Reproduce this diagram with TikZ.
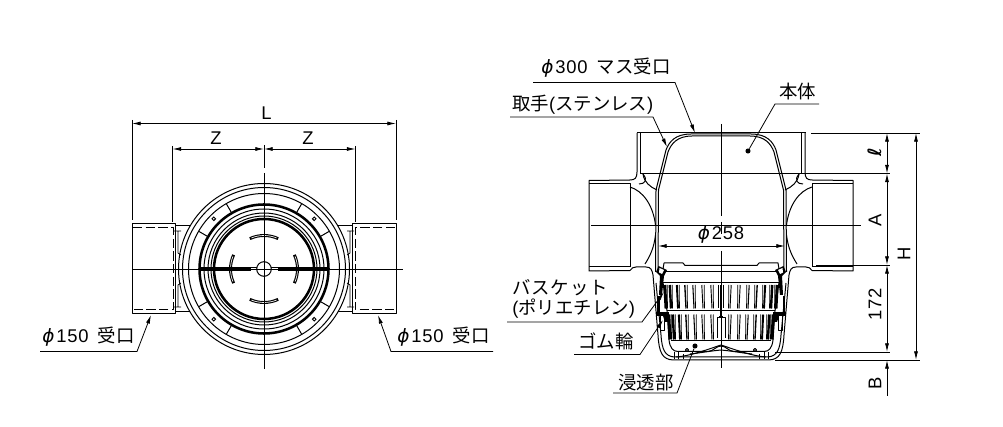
\documentclass[tikz,border=0pt]{standalone}
\usepackage{fontspec}
\setmainfont{Liberation Sans}
\newfontfamily\jp{Noto Sans CJK JP}
\newfontfamily\jpw[LetterSpace=5]{Noto Sans CJK JP}
\newfontfamily\dig[LetterSpace=4]{Liberation Sans}
\newfontfamily\symf{DejaVu Sans}
\usetikzlibrary{arrows.meta,calc}
\newcommand{\phisym}{{\symf\itshape ϕ}\hspace{1.5pt}}
\tikzset{
  base/.style={line width=0.75pt,line cap=butt,line join=round},
  thin line/.style={line width=0.6pt},
  centre/.style={line width=0.6pt},
  dim/.style={line width=0.6pt,{Latex[length=6.5pt,width=3pt]}-{Latex[length=6.5pt,width=3pt]}},
  ext/.style={line width=0.6pt},
  lead/.style={line width=0.6pt},
  leadarrow/.style={line width=0.6pt,-{Latex[length=6.5pt,width=3pt]}},
  lbl/.style={inner sep=0pt,anchor=west,font=\fontsize{13.8}{15}\selectfont},
  dimtxt/.style={inner sep=0pt,font=\fontsize{13.8}{15}\selectfont},
  dot/.style={circle,fill=black,inner sep=0pt,minimum size=3.8pt},
}
\newcommand{\pipeL}{%
  \draw[base] (132,224) rectangle (175.5,314);
  \draw[base,dashed,dash pattern=on 7pt off 2.5pt] (133,228) -- (173,228) -- (173,310) -- (133,310);
  \draw[base] (175.5,226) -- (190,226);
  \draw[base] (175.5,312) -- (190,312);
  \draw[thin line] (174,231) -- (181,231) (178,231) -- (178,253) -- (181,255);
  \draw[thin line] (174,307) -- (181,307) (178,307) -- (178,285) -- (181,283);
}
\newcommand{\sideL}{%
  \draw[base] (637,133) -- (637,172) .. controls (637,178) and (635,180) .. (630,180) -- (589,180.5) -- (589,271) -- (630,270.5)
    .. controls (632,268) and (633,267) .. (636,267) -- (646,267) .. controls (651,267) and (652,270) .. (653,275)
    -- (658,335) .. controls (659,352) and (662,360) .. (674,360) -- (721,360);
  \draw[base] (640.5,133) -- (640.5,173);
  \draw[base] (589,184) -- (630,184) -- (630,267) (589,266.5) -- (630,266.5);
  \draw[base] (630,187) .. controls (643,191) and (653,205) .. (655.5,225);
  \draw[base] (655.5,235) .. controls (654,248) and (650,256) .. (645,264);
  \draw[base] (643,174) .. controls (644,182) and (650,187) .. (657,190);
  \draw[base] (639,184) .. controls (645,184) and (648,180) .. (643,174);
  \draw[base] (721,134) -- (691,134) .. controls (675,134) and (669,142) .. (666,150) -- (656,190) -- (655.5,272);
  \draw[base] (721,136) -- (692,136) .. controls (677,136) and (671,144) .. (668,152) -- (658.5,190) -- (658,272);
  \draw[base] (656,283) -- (661,335) .. controls (662,350) and (665,356) .. (674,357) -- (721,357);
  % basket plates
  \draw[base] (664,272) -- (721,272);
  \draw[base] (663,269) -- (664,263) -- (683,263) -- (685,265.5) -- (721,265.5);
  % gasket
  \fill (658.5,266) -- (667,270) -- (664,276) -- (660,276) -- (656,272) -- cycle;
  \fill[white] (659.5,268) -- (664,270) -- (662,274) -- (659,272.5) -- cycle;
  % basket body
  \draw[base] (663,282.5) -- (721,282.5);
  \draw[base] (667,311) -- (721,311);
  \draw[base] (671,340.5) -- (721,340.5);
  \draw[base] (663,282.5) -- (667,311) -- (669,340) .. controls (670,348) and (673,351.5) .. (678,351.5) -- (708,351.5) .. controls (714,351) and (716,346) .. (721,346);
  % rubber ring and rim
  \fill (656,312) rectangle (669,316);
  \fill (663,316) -- (668,316) -- (668,322) -- (665,322) -- cycle;
  \fill (657,296) rectangle (659.5,312);
  \draw[base] (660,316) rectangle (664,331);
  \fill (660,276) -- (664,276) -- (662,295) -- (659,295) -- cycle;
  % upper row of slots
  \foreach \o/\w in {9/.7,18/.7,27/.8,35/1,43/1.4,50/1.8,55/2.2}{
    \draw[line width=.6pt] ({721-\o+1.2},285) -- ({721-\o+1.4},308.5);
    \draw[line width=\w pt] ({721-\o-1.2},285) -- ({721-\o},308.5);
  }
  % lower row of slots
  \foreach \o/\w in {9/.7,18/.7,26/.8,34/1,41/1.4,47/1.8,51/2.2}{
    \draw[line width=.6pt] ({721-\o+1.2},314.5) -- ({721-\o+1.4},339.5);
    \draw[line width=\w pt] ({721-\o-1.2},314.5) -- ({721-\o},339.5);
  }
  % seepage floor
  \draw[base] (676,357) .. controls (690,356) and (706,350) .. (721,345);
  \draw[base] (690,354) .. controls (700,353) and (710,351) .. (721,350);
  \draw[base] (687,350) circle (1.6);
  \draw[thin line] (674,352) -- (674,359) (678,352) -- (678,359) (683,354) -- (683,359);
}
\begin{document}
\begin{tikzpicture}[x=0.75pt,y=-0.75pt]
\useasboundingbox (0,0) rectangle (1003,427);
% ---------- plan view
\pipeL
\begin{scope}[shift={(528,0)},xscale=-1]\pipeL\end{scope}
\foreach \r in {85.5,81.5,75.5,60,56,53}{\draw[base] (264,269) circle (\r);}
\draw[line width=1.9pt] (264,269) circle (64.5);
\draw[line width=1.9pt] (264,269) circle (50);
\foreach \a in {30,60,120,150,210,240,300,330}{
  \draw[base] ($(264,269)+(\a:65)$) -- ($(264,269)+(\a:75.5)$);
}
\foreach \a in {45,135,225,315}{\draw[line width=.7pt] ($(264,269)+(\a:71)$) circle (1.8);}
\foreach \a in {0,90,180,270}{
  \draw[line width=2.2pt] ($(264,269)+(\a-25:33.5)$) arc[start angle=\a-25,end angle=\a+25,radius=33.5];
  \draw[white,line width=.5pt] ($(264,269)+(\a-22:33.5)$) arc[start angle=\a-22,end angle=\a+22,radius=33.5];
}
\draw[line width=2.6pt] (199,269) -- (251,269) (278,269) -- (329,269);
\draw[base] (251,268) -- (257,268) (251,270) -- (257,270) (271,268) -- (278,268) (271,270) -- (278,270);
\draw[base] (264,269) circle (7.3);
\draw[centre] (132,269) -- (403,269);
\draw[centre] (264,145) -- (264,168) (264,173) -- (264,369);
% plan dimensions
\coordinate (L1) at (132,120); \coordinate (L1b) at (132,220);
\coordinate (L2) at (396,120); \coordinate (L2b) at (396,220);
\coordinate (Z1) at (172.5,146); \coordinate (Z1b) at (172.5,222);
\coordinate (Z2) at (355.5,146); \coordinate (Z2b) at (355.5,222);
\draw[ext] (L1) -- (L1b) (L2) -- (L2b) (Z1) -- (Z1b) (Z2) -- (Z2b);
\draw[dim] (132,123.5) -- (396,123.5);
\draw[dim] (172.5,149) -- (264,149);
\draw[dim] (264,149) -- (355.5,149);
\node[dimtxt] (tL) at (266.5,113) {L};
\node[dimtxt] (tZ1) at (216,138.5) {Z};
\node[dimtxt] (tZ2) at (308,138.5) {Z};
% plan labels
\node[lbl] (p1) at (42,337) {\phisym{\dig 150}\hspace{7pt}{\jp 受口}};
\node[lbl] (p2) at (397,337) {\phisym{\dig 150}\hspace{7pt}{\jp 受口}};
\coordinate (p1a) at (40,351.5); \coordinate (p1b) at (137,351.5); \coordinate (p1c) at (151,315);
\coordinate (p2a) at (493,351.5); \coordinate (p2b) at (391,351.5); \coordinate (p2c) at (378,315);
\draw[leadarrow] (p1a) -- (p1b) -- (p1c);
\draw[leadarrow] (p2a) -- (p2b) -- (p2c);
% ---------- section view
\sideL
\begin{scope}[shift={(1442,0)},xscale=-1]\sideL\end{scope}
\draw[base] (637,133) -- (806,133);
% central slot
\draw[base] (717,338) -- (717,318) -- (725,318) -- (725,338);
\fill (719,316) -- (723,316) -- (723,318) -- (719,318) -- cycle;
\fill (720.3,285) rectangle (721.7,316);
\draw[line width=.7pt] (718.5,285) -- (718.5,308) (723.5,285) -- (723.5,308);
% centre lines
\draw[centre] (721,124) -- (721,216) (721,222) -- (721,234) (721,251) -- (721,368);
\draw[centre] (591,225.5) -- (861,225.5);
% section dimensions
\coordinate (e1) at (811,133); \coordinate (e1b) at (920,133);
\coordinate (e2) at (640,173.5); \coordinate (e2b) at (890,173.5);
\coordinate (e3) at (816,265); \coordinate (e3b) at (890,265);
\coordinate (e4) at (775,352); \coordinate (e4b) at (890,352);
\coordinate (e5) at (775,360); \coordinate (e5b) at (920,360);
\draw[ext] (e1) -- (e1b) (e2) -- (e2b) (e3) -- (e3b) (e4) -- (e4b) (e5) -- (e5b);
\draw[dim] (887,133) -- (887,173.5);
\draw[dim] (887,173.5) -- (887,265);
\draw[dim] (887,265) -- (887,352);
\draw[dim] (916,133) -- (916,360);
\coordinate (Bt) at (887,396);
\draw[leadarrow] (Bt) -- (887,360);
\draw[dim] (658,246) -- (785,246);
\node[dimtxt] (t258) at (721,234) {\phisym{\dig 258}};
\node[dimtxt,rotate=90] (tl) at (875,152) {{\symf\bfseries\itshape ℓ}};
\node[dimtxt,rotate=90] (tA) at (875,220) {A};
\node[dimtxt,rotate=90] (tH) at (904,254) {H};
\node[dimtxt,rotate=90] (t172) at (875,304) {\dig 172};
\node[dimtxt,rotate=90] (tB) at (875,383) {B};
% section labels
\node[lbl] (a1) at (541,68) {\phisym{\dig 300}\hspace{7pt}{\jp マス受口}};
\node[lbl] (a2) at (512,105) {{\jp 取手}({\jp ステンレス})};
\node[lbl] (a3) at (779,92) {\jp 本体};
\node[lbl] (a4) at (512,288) {\jpw バスケット};
\node[lbl] (a5) at (512,309) {({\jp ポリエチレン})};
\node[lbl] (a6) at (578,341) {\jp ゴム輪};
\node[lbl] (a7) at (618,383) {\jp 浸透部};
\coordinate (b1a) at (533,82.5); \coordinate (b1b) at (675,82.5); \coordinate (b1c) at (695,133);
\draw[leadarrow] (b1a) -- (b1b) -- (b1c);
\coordinate (b2a) at (510,117); \coordinate (b2b) at (653,117); \coordinate (b2c) at (667,147);
\draw[leadarrow] (b2a) -- (b2b) -- (b2c);
\coordinate (b3a) at (819,104); \coordinate (b3b) at (775,104);
\node[dot] (d3) at (748,151) {};
\draw[lead] (b3a) -- (b3b) -- (d3);
\coordinate (b4a) at (507,322); \coordinate (b4b) at (642,322); \coordinate (b4c) at (664,292);
\draw[leadarrow] (b4a) -- (b4b) -- (b4c);
\coordinate (b5a) at (574,354.5); \coordinate (b5b) at (640,354.5); \coordinate (b5c) at (663,320);
\draw[leadarrow] (b5a) -- (b5b) -- (b5c);
\coordinate (b6a) at (613,393); \coordinate (b6b) at (677,393);
\node[dot] (d6) at (695,346) {};
\draw[lead] (b6a) -- (b6b) -- (d6);
\end{tikzpicture}
\end{document}
